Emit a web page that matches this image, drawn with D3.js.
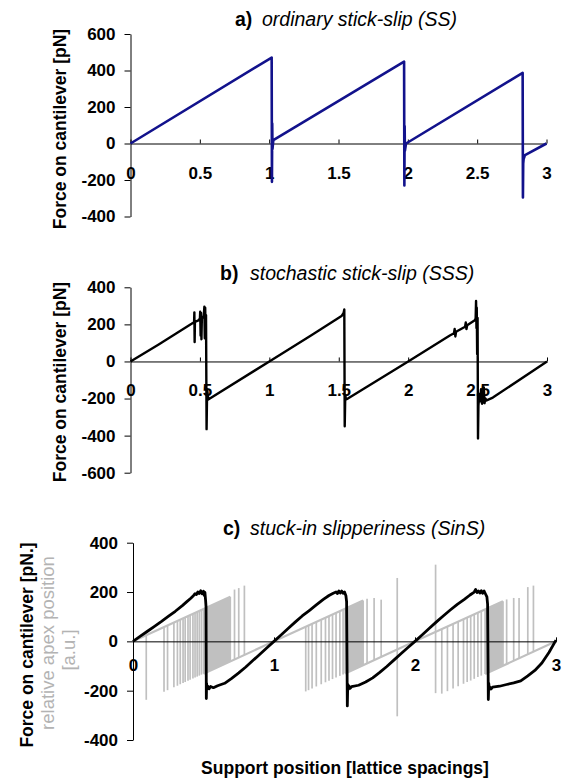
<!DOCTYPE html>
<html><head><meta charset="utf-8">
<script src="https://cdn.jsdelivr.net/npm/d3@7"></script>
<style>
html,body{margin:0;padding:0;background:#fff;}
svg{display:block;font-family:"Liberation Sans",Arial,sans-serif;}
</style></head>
<body><svg id="c" width="563" height="782"></svg>
<script>
// ---------- data ----------
const xTicksAB = [0, 0.5, 1, 1.5, 2, 2.5, 3];
const xTicksC = [0, 1, 2, 3];
const yTicksA = [-400, -200, 0, 200, 400, 600];
const yTicksB = [-600, -400, -200, 0, 200, 400];
const yTicksC = [-400, -200, 0, 200, 400];

// a) ordinary stick-slip (force, pN)
const ssX = [0, 1.018, 1.02, 1.022, 1.024, 1.03, 1.973, 1.975, 1.977, 1.979, 1.987, 2.828, 2.83, 2.832, 2.835, 2.845, 3.0];
const ssF = [0, 471, -210, 110, -30, 18, 449, -230, 95, -40, 0, 387, -296, -110, -85, -64, 0];

// b) stochastic stick-slip
const sssX = [0, 0.2, 0.44, 0.458, 0.46, 0.462, 0.464, 0.49, 0.5, 0.502, 0.505, 0.508, 0.511, 0.514, 0.52, 0.528, 0.532, 0.535, 0.538, 0.541, 0.544, 0.548, 0.552, 0.56, 1.0, 1.3, 1.52, 1.535, 1.54, 1.543, 1.547, 1.552, 1.56, 2.0, 2.3, 2.33, 2.335, 2.34, 2.345, 2.41, 2.415, 2.42, 2.425, 2.48, 2.486, 2.489, 2.492, 2.494, 2.497, 2.5, 2.503, 2.506, 2.512, 2.52, 2.525, 2.532, 2.54, 2.545, 2.55, 2.556, 2.565, 2.61, 3.0];
const sssF = [0, 90, 203, 212, 265, 105, 214, 222, 232, 268, 140, 262, 120, 232, 238, 246, 295, 125, 290, 160, 250, -365, -150, -205, 0, 140, 245, 262, 280, -350, -180, -205, -202, 0, 140, 152, 175, 135, 160, 187, 210, 175, 195, 222, 232, 326, 180, 290, 40, 235, -415, -240, -175, -215, -150, -228, -200, -140, -225, -200, -210, -195, 0];

// c) stuck-in slipperiness: force on cantilever (black)
const sinsX = [0, 0.05, 0.1, 0.15, 0.2, 0.25, 0.3, 0.35, 0.38, 0.41, 0.43, 0.44, 0.45, 0.46, 0.47, 0.48, 0.49, 0.5, 0.505, 0.51, 0.515, 0.518, 0.52, 0.522, 0.525, 0.53, 0.54, 0.55, 0.57, 0.6, 0.65, 0.7, 0.75, 0.8, 0.85, 0.9, 0.95, 1.0, 1.05, 1.1, 1.15, 1.2, 1.25, 1.3, 1.35, 1.39, 1.42, 1.44, 1.45, 1.46, 1.47, 1.48, 1.49, 1.5, 1.51, 1.515, 1.52, 1.523, 1.527, 1.53, 1.54, 1.55, 1.6, 1.65, 1.7, 1.75, 1.8, 1.85, 1.9, 1.95, 2.0, 2.05, 2.1, 2.15, 2.2, 2.25, 2.3, 2.35, 2.39, 2.42, 2.43, 2.44, 2.45, 2.46, 2.47, 2.48, 2.49, 2.5, 2.51, 2.515, 2.52, 2.523, 2.527, 2.53, 2.54, 2.55, 2.6, 2.65, 2.7, 2.75, 2.8, 2.85, 2.9, 2.95, 3.0];
const sinsF = [0, 20, 40, 60, 80, 101, 122, 145, 160, 175, 186, 193, 190, 200, 194, 205, 193, 203, 187, 199, 165, 140, -232, -170, -195, -182, -192, -183, -188, -180, -170, -150, -128, -104, -78, -52, -26, 0, 26, 52, 78, 103, 125, 148, 170, 186, 195, 200, 194, 204, 196, 204, 195, 200, 185, 160, -262, -175, -195, -180, -190, -184, -178, -165, -148, -126, -102, -76, -50, -25, 0, 26, 52, 78, 103, 127, 150, 170, 188, 200, 210, 198, 204, 196, 205, 195, 204, 192, 180, 150, -236, -170, -195, -185, -193, -186, -182, -175, -168, -160, -140, -118, -88, -45, 5];

// c) relative apex position (grey): branches and jumps
const apexBranch0 = [[0, 0], [0.69, 181]];
const apexBranch1 = [[0.5, -131], [1.0, 0], [1.632, 166]];
const apexBranch2 = [[1.505, -130], [2.0, 0], [2.624, 163]];
const apexBranch3 = [[2.497, -132], [3.0, 0]];
const apexJumpX = [0.094, 0.22, 0.245, 0.29, 0.315, 0.335, 0.355, 0.37, 0.39, 0.405, 0.425, 0.44, 0.455, 0.47, 0.485,
  0.5, 0.506, 0.512, 0.518, 0.524, 0.53, 0.536, 0.542, 0.548, 0.554, 0.56, 0.566, 0.572, 0.578, 0.584, 0.59, 0.596, 0.602, 0.608, 0.614, 0.62, 0.626, 0.632, 0.638, 0.644, 0.65, 0.656, 0.662, 0.668, 0.675, 0.682, 0.69,
  0.72, 0.75, 0.79,
  1.225, 1.245, 1.27, 1.3, 1.335, 1.365, 1.39, 1.415, 1.44, 1.467, 1.49,
  1.505, 1.511, 1.517, 1.523, 1.529, 1.535, 1.541, 1.547, 1.553, 1.559, 1.565, 1.571, 1.577, 1.583, 1.589, 1.595, 1.601, 1.607, 1.613, 1.619, 1.625, 1.632,
  1.66, 1.71, 1.76, 1.874, 2.146,
  2.19, 2.23, 2.27, 2.306, 2.344, 2.37, 2.395, 2.42, 2.446, 2.47,
  2.497, 2.503, 2.509, 2.515, 2.521, 2.527, 2.533, 2.539, 2.545, 2.551, 2.557, 2.563, 2.569, 2.575, 2.581, 2.587, 2.593, 2.599, 2.605, 2.611, 2.617, 2.624,
  2.65, 2.7, 2.738, 2.8, 2.84];
const apexJumpTop = [25, 58, 64, 76, 83, 88, 93, 97, 102, 106, 111, 115, 119, 123, 127,
  131, 133, 134, 136, 137, 139, 140, 142, 144, 145, 147, 148, 150, 151, 153, 155, 156, 158, 159, 161, 162, 164, 166, 167, 169, 170, 172, 173, 175, 177, 179, 181,
  210, 216, 226,
  59, 64, 71, 79, 88, 96, 102, 109, 115, 122, 128,
  132, 134, 135, 137, 139, 140, 142, 143, 145, 146, 148, 150, 151, 153, 154, 156, 157, 159, 161, 162, 164, 166,
  173, 176, 169, 257, 311,
  50, 60, 71, 80, 90, 97, 103, 110, 117, 123,
  130, 132, 133, 135, 137, 138, 140, 141, 143, 144, 146, 148, 149, 151, 152, 154, 155, 157, 159, 160, 162, 163,
  170, 176, 176, 220, 226];
const apexJumpBottom = [-237, -204, -198, -186, -180, -174, -169, -165, -160, -156, -151, -147, -143, -139, -135,
  -131, -129, -128, -126, -125, -123, -122, -120, -118, -117, -115, -114, -112, -111, -109, -107, -106, -104, -103, -101, -100, -98, -96, -95, -93, -92, -90, -89, -87, -85, -83, -81,
  -73, -66, -55,
  -203, -198, -191, -183, -174, -166, -160, -153, -147, -140, -134,
  -130, -128, -127, -125, -123, -122, -120, -119, -117, -116, -114, -112, -111, -109, -108, -106, -105, -103, -101, -100, -98, -96,
  -89, -76, -63, -304, -210,
  -212, -202, -191, -182, -172, -165, -159, -152, -145, -139,
  -132, -130, -129, -127, -125, -124, -122, -121, -119, -118, -116, -114, -113, -111, -110, -108, -107, -105, -103, -102, -100, -99,
  -92, -79, -69, -52, -42];

// ---------- drawing ----------
const svg = d3.select("#c");
const FONT = '"Liberation Sans",Arial,sans-serif';
const BLUE = "#12128c", GREY = "#c0c0c0";

function panel(o) {
  const x = d3.scaleLinear().domain([0, 3]).range(o.xr);
  const y = d3.scaleLinear().domain(o.yd).range(o.yr);
  const g = svg.append("g");
  // y axis
  const ya = g.append("g").attr("transform", `translate(${o.xr[0]},0)`)
    .call(d3.axisLeft(y).tickValues(o.yt).tickSize(6).tickSizeOuter(0).tickPadding(9).tickFormat(d => String(d)));
  ya.selectAll("text").attr("font-size", 17).attr("font-weight", "bold").attr("font-family", FONT).attr("fill", "#000");
  ya.selectAll("line,path").attr("stroke", "#000");
  // x axis at zero
  const xa = g.append("g").attr("transform", `translate(0,${y(0)})`)
    .call(d3.axisBottom(x).tickValues(o.xt).tickSizeInner(-4).tickSizeOuter(0).tickPadding(o.xpad).tickFormat(d => String(d)));
  xa.selectAll("text").attr("font-size", 17).attr("font-weight", "bold").attr("font-family", FONT).attr("fill", "#000");
  xa.selectAll("line,path").attr("stroke", "#000");
  // title
  g.append("text").attr("x", o.tx[0]).attr("y", o.ty).attr("font-size", 19.5).attr("font-weight", "bold").text(o.tl);
  g.append("text").attr("x", o.tx[1]).attr("y", o.ty).attr("font-size", 19.5).attr("font-style", "italic").text(o.tt);
  return {x, y, g};
}

const line = (x, y) => d3.line().x(d => x(d[0])).y(d => y(d[1]));

// panel a
const A = panel({xr: [130.5, 546.5], yd: [-400, 600], yr: [216.5, 34], yt: yTicksA, xt: xTicksAB, xpad: 23,
  tx: [235, 262], ty: 26, tl: "a)", tt: "ordinary stick-slip (SS)"});
A.g.append("path").datum(ssX.map((v, i) => [v, ssF[i]])).attr("d", line(A.x, A.y))
  .attr("fill", "none").attr("stroke", BLUE).attr("stroke-width", 2.6).attr("stroke-linejoin", "round");

// panel b
const B = panel({xr: [130.5, 547], yd: [-600, 400], yr: [472.7, 287.3], yt: yTicksB, xt: xTicksAB, xpad: 22,
  tx: [220, 250], ty: 280, tl: "b)", tt: "stochastic stick-slip (SSS)"});
B.g.append("path").datum(sssX.map((v, i) => [v, sssF[i]])).attr("d", line(B.x, B.y))
  .attr("fill", "none").attr("stroke", "#000").attr("stroke-width", 2.4).attr("stroke-linejoin", "round");

// panel c
const C = panel({xr: [133, 556], yd: [-400, 400], yr: [740, 542.7], yt: yTicksC, xt: xTicksC, xpad: 18,
  tx: [223, 250], ty: 535, tl: "c)", tt: "stuck-in slipperiness (SinS)"});
const cg = C.g.insert("g", ":first-child");
cg.selectAll("line.jump").data(apexJumpX).join("line").attr("class", "jump")
  .attr("x1", d => C.x(d)).attr("x2", d => C.x(d))
  .attr("y1", (d, i) => C.y(apexJumpTop[i])).attr("y2", (d, i) => C.y(apexJumpBottom[i]))
  .attr("stroke", GREY).attr("stroke-width", 1.7);
[apexBranch0, apexBranch1, apexBranch2, apexBranch3].forEach(b => {
  cg.append("path").datum(b).attr("d", line(C.x, C.y)).attr("fill", "none").attr("stroke", GREY).attr("stroke-width", 2.2);
});
C.g.append("path").datum(sinsX.map((v, i) => [v, sinsF[i]])).attr("d", line(C.x, C.y))
  .attr("fill", "none").attr("stroke", "#000").attr("stroke-width", 2.8).attr("stroke-linejoin", "round");

// axis titles
function vlabel(x, y, txt, size, weight, fill) {
  svg.append("text").attr("transform", `translate(${x},${y}) rotate(-90)`).attr("text-anchor", "middle")
    .attr("font-size", size).attr("font-weight", weight).attr("fill", fill).text(txt);
}
vlabel(66, 129, "Force on cantilever [pN]", 17.5, "bold", "#000");
vlabel(66, 382, "Force on cantilever [pN]", 17.5, "bold", "#000");
vlabel(33, 645, "Force on cantilever [pN.]", 17.5, "bold", "#000");
vlabel(54, 643, "relative apex position", 18.5, "normal", "#b3b3b3");
vlabel(75, 650, "[a.u.]", 18.5, "normal", "#b3b3b3");
svg.append("text").attr("x", 345).attr("y", 774).attr("text-anchor", "middle").attr("font-size", 17.5)
  .attr("font-weight", "bold").text("Support position [lattice spacings]");
</script></body></html>
